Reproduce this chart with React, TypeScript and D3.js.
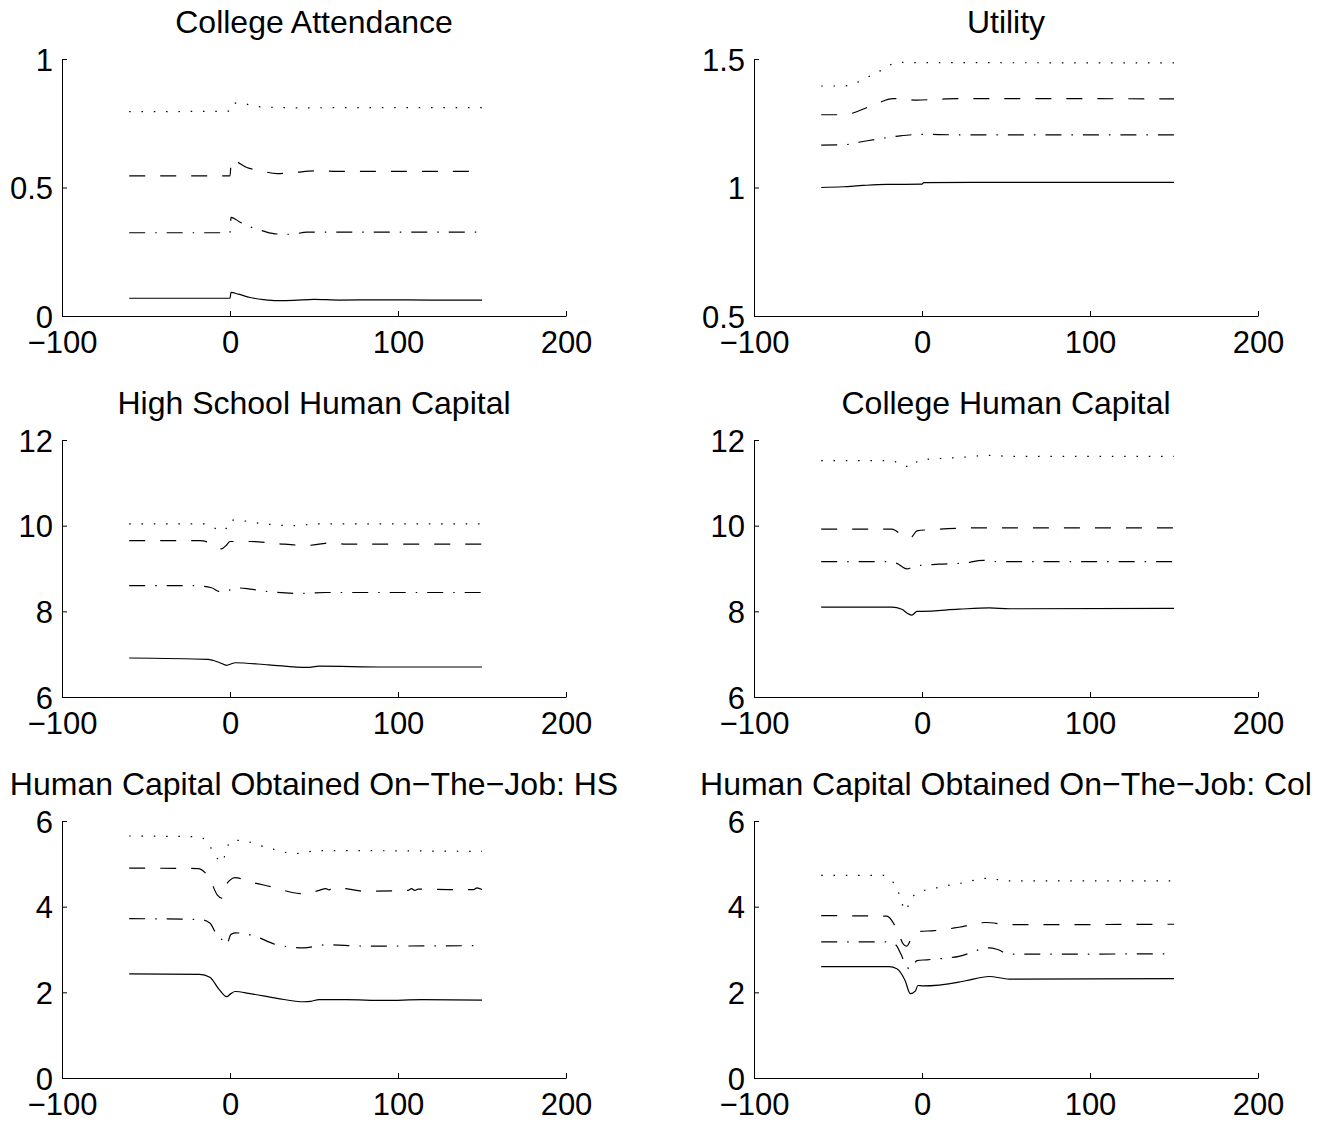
import React, { Component } from "react";
import * as d3 from "d3";

const xTicks = [-100, 0, 100, 200];

// College Attendance
const attendSolid = [[-60, 0.069], [0, 0.069], [0.6, 0.092], [5, 0.085], [12, 0.072], [20, 0.064], [28, 0.06], [38, 0.061], [50, 0.065], [65, 0.062], [90, 0.063], [120, 0.062], [150, 0.062]];
const attendDashDot = [[-60, 0.324], [0, 0.324], [0.6, 0.384], [6, 0.365], [12, 0.347], [20, 0.33], [28, 0.319], [36, 0.318], [46, 0.326], [60, 0.326], [100, 0.326], [150, 0.326]];
const attendDashed = [[-60, 0.545], [0, 0.545], [0.8, 0.607], [10, 0.578], [19, 0.564], [28, 0.554], [38, 0.558], [50, 0.565], [62, 0.563], [100, 0.563], [150, 0.563]];
const attendDotted = [[-60, 0.795], [0, 0.797], [1, 0.821], [5, 0.83], [12, 0.821], [16, 0.815], [26, 0.812], [40, 0.81], [80, 0.811], [150, 0.811]];

// Utility
const utilSolid = [[-60, 1.0], [-47, 1.003], [-35, 1.008], [-21, 1.012], [0, 1.013], [1, 1.019], [30, 1.02], [150, 1.02]];
const utilDashDot = [[-60, 1.165], [-47, 1.166], [-36, 1.178], [-26, 1.189], [-14, 1.2], [0, 1.207], [20, 1.205], [150, 1.205]];
const utilDashed = [[-60, 1.283], [-47, 1.283], [-31, 1.315], [-17, 1.346], [-3, 1.34], [8, 1.343], [21, 1.346], [150, 1.345]];
const utilDotted = [[-60, 1.395], [-47, 1.395], [-26, 1.45], [-14, 1.487], [0, 1.486], [150, 1.485]];

// High School Human Capital
const hsSolid = [[-60, 6.91], [-13, 6.88], [-6, 6.8], [-2, 6.74], [0.5, 6.77], [3, 6.8], [23, 6.75], [46, 6.69], [53, 6.72], [92, 6.7], [150, 6.7]];
const hsDashDot = [[-60, 8.6], [-22, 8.6], [-11, 8.55], [-6, 8.46], [0, 8.5], [3, 8.55], [12, 8.52], [23, 8.46], [41, 8.42], [57, 8.44], [150, 8.44]];
const hsDashed = [[-60, 9.65], [-18, 9.65], [-9, 9.55], [-5, 9.46], [-2, 9.55], [0, 9.63], [12, 9.63], [28, 9.58], [46, 9.54], [60, 9.6], [69, 9.57], [150, 9.57]];
const hsDotted = [[-60, 10.04], [-15, 10.04], [-10, 9.96], [-5, 9.88], [-2, 9.95], [0, 10.13], [6, 10.12], [19, 10.05], [37, 10.0], [53, 10.04], [150, 10.04]];

// College Human Capital
const colSolid = [[-60, 8.1], [-18, 8.1], [-12, 8.05], [-8.5, 7.95], [-6, 7.91], [-3, 8.0], [0, 8.0], [22, 8.05], [40, 8.08], [52, 8.06], [150, 8.07]];
const colDashDot = [[-60, 9.16], [-21, 9.16], [-15, 9.12], [-9, 8.99], [-4, 9.06], [10, 9.1], [26, 9.13], [36, 9.19], [45, 9.16], [150, 9.16]];
const colDashed = [[-60, 9.92], [-18, 9.92], [-10, 9.74], [-6.5, 9.73], [-3, 9.88], [7, 9.91], [36, 9.95], [52, 9.95], [150, 9.95]];
const colDotted = [[-60, 11.52], [-18, 11.52], [-11, 11.39], [-5.5, 11.38], [-2, 11.53], [22, 11.59], [40, 11.64], [52, 11.62], [150, 11.62]];

// Human Capital Obtained On-The-Job: HS
const otjHsSolid = [[-60, 2.43], [-18, 2.42], [-12, 2.35], [-6.5, 2.07], [-2, 1.9], [0.5, 1.97], [3, 2.02], [12, 1.97], [28, 1.86], [44, 1.78], [48, 1.79], [53, 1.83], [69, 1.83], [92, 1.81], [114, 1.83], [150, 1.82]];
const otjHsDashDot = [[-60, 3.72], [-18, 3.7], [-12, 3.62], [-8.5, 3.39], [-5, 3.24], [-2, 3.12], [0.5, 3.35], [3, 3.39], [14, 3.32], [28, 3.11], [44, 3.04], [57, 3.11], [80, 3.08], [150, 3.09]];
const otjHsDashed = [[-60, 4.9], [-19, 4.89], [-12, 4.64], [-7.5, 4.27], [-5, 4.2], [-3, 4.45], [0, 4.62], [3, 4.68], [12, 4.58], [28, 4.43], [37, 4.33], [44, 4.3], [53, 4.38], [57, 4.42], [59, 4.39], [61, 4.44], [69, 4.42], [80, 4.36], [106, 4.38], [108, 4.42], [110, 4.38], [112, 4.41], [130, 4.4], [145, 4.4], [147, 4.44], [150, 4.4]];
const otjHsDotted = [[-60, 5.65], [-18, 5.63], [-12, 5.41], [-8.5, 5.18], [-5, 5.03], [-3, 5.2], [0, 5.52], [5, 5.55], [23, 5.37], [39, 5.24], [53, 5.31], [150, 5.29]];

// Human Capital Obtained On-The-Job: Col
const otjColSolid = [[-60, 2.6], [-19.5, 2.6], [-15, 2.55], [-10, 2.27], [-7, 1.97], [-4, 2.03], [-2.4, 2.16], [0.5, 2.15], [22, 2.24], [26, 2.27], [40, 2.37], [52, 2.31], [150, 2.32]];
const otjColDashDot = [[-60, 3.18], [-23, 3.18], [-16, 3.12], [-12.5, 2.89], [-9, 2.58], [-6.6, 2.55], [-3, 2.74], [3, 2.76], [22, 2.84], [40, 3.04], [45, 3.0], [52, 2.89], [150, 2.9]];
const otjColDashed = [[-60, 3.79], [-21, 3.78], [-15, 3.47], [-11, 3.12], [-9, 3.08], [-6, 3.3], [-2, 3.42], [7.5, 3.44], [22, 3.52], [38, 3.63], [52, 3.58], [150, 3.59]];
const otjColDotted = [[-60, 4.73], [-23, 4.73], [-15, 4.43], [-12.5, 4.16], [-10, 3.9], [-6.6, 4.18], [-2, 4.33], [10, 4.45], [26, 4.57], [38, 4.66], [52, 4.6], [150, 4.6]];

const panels = [
    { title: "College Attendance", yDomain: [0, 1], yTicks: [0, 0.5, 1], series: [attendSolid, attendDashDot, attendDashed, attendDotted] },
    { title: "Utility", yDomain: [0.5, 1.5], yTicks: [0.5, 1, 1.5], series: [utilSolid, utilDashDot, utilDashed, utilDotted] },
    { title: "High School Human Capital", yDomain: [6, 12], yTicks: [6, 8, 10, 12], series: [hsSolid, hsDashDot, hsDashed, hsDotted] },
    { title: "College Human Capital", yDomain: [6, 12], yTicks: [6, 8, 10, 12], series: [colSolid, colDashDot, colDashed, colDotted] },
    { title: "Human Capital Obtained On\u2212The\u2212Job: HS", yDomain: [0, 6], yTicks: [0, 2, 4, 6], series: [otjHsSolid, otjHsDashDot, otjHsDashed, otjHsDotted] },
    { title: "Human Capital Obtained On\u2212The\u2212Job: Col", yDomain: [0, 6], yTicks: [0, 2, 4, 6], series: [otjColSolid, otjColDashDot, otjColDashed, otjColDotted] },
];

// solid, dash-dot, dashed, dotted
const dashes = [null, "16,10,1.5,10", "16,15", "1.5,10.8"];

class App extends Component {
    svgRef = React.createRef<SVGSVGElement>();

    componentDidMount() {
        const svg = d3.select(this.svgRef.current);
        svg.selectAll("*").remove();

        var colLeft = [62, 754], w = 504,
            rowTop = [59, 440, 821], h = 257;
        var font = "'Liberation Sans', Arial, Helvetica, sans-serif";

        panels.forEach((p, i) => {
            var left = colLeft[i % 2], top = rowTop[Math.floor(i / 2)];
            var g = svg.append("g").attr("transform", `translate(${left}, ${top})`);

            const x = d3.scaleLinear().domain([-100, 200]).range([0, w]);
            const y = d3.scaleLinear().domain(p.yDomain).range([h, 0]);

            // x axis, ticks pointing inward
            var xa = g.append("g").attr("transform", `translate(0, ${h})`)
                .call(d3.axisBottom(x).tickValues(xTicks).tickFormat(d3.format("")).tickSizeInner(-5).tickSizeOuter(0).tickPadding(15));
            xa.attr("font-family", font).attr("font-size", 31).attr("color", "#000");

            // y axis
            var ya = g.append("g")
                .call(d3.axisLeft(y).tickValues(p.yTicks).tickFormat(d3.format("")).tickSizeInner(-5).tickSizeOuter(0).tickPadding(9));
            ya.attr("font-family", font).attr("font-size", 31).attr("color", "#000");
            ya.selectAll("text").attr("dy", "0.36em");

            const line = d3.line().x(d => x(d[0])).y(d => y(d[1])).curve(d3.curveMonotoneX);

            g.selectAll(".series")
                .data(p.series)
                .join("path")
                .attr("class", "series")
                .attr("d", d => line(d))
                .attr("fill", "none")
                .attr("stroke", "#000")
                .attr("stroke-width", 1.2)
                .attr("stroke-dasharray", (d, k) => dashes[k]);

            g.append("text")
                .attr("x", w / 2)
                .attr("y", -26)
                .attr("text-anchor", "middle")
                .attr("font-family", font)
                .attr("font-size", 32)
                .attr("fill", "#000")
                .text(p.title);
        });
    }

    render() {
        return (
            <svg ref={this.svgRef} width={1324} height={1123}
                style={{ position: "absolute", left: 0, top: 0, background: "#fff" }}>
            </svg>
        );
    }
}

export default App;
